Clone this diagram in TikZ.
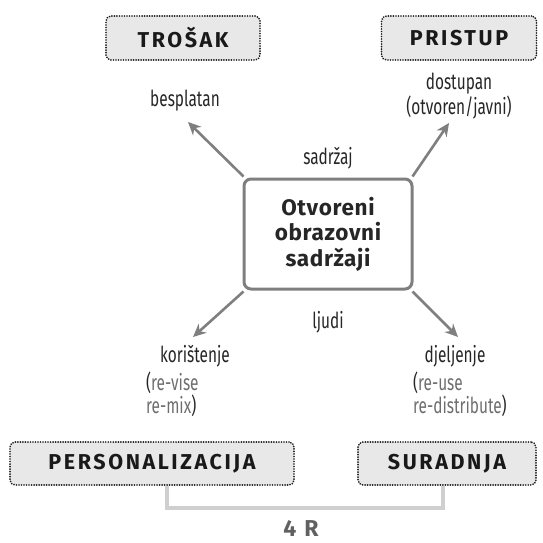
\documentclass[tikz,border=0pt]{standalone}
\usepackage{fontspec}
\setmainfont{Fira Sans}
\newfontfamily\headfont[LetterSpace=12]{Fira Sans}
\newfontfamily\mainfont[LetterSpace=3]{Fira Sans}
\newfontfamily\labfont[FakeStretch=0.70]{Fira Sans}
\usetikzlibrary{arrows.meta}
\definecolor{boxfill}{HTML}{E8E8E8}
\definecolor{arrgray}{HTML}{7F7F7F}
\definecolor{txtgray}{HTML}{6E6E6E}
\definecolor{lingray}{HTML}{CFCFCF}
\tikzset{
  headbox/.style={draw=black!90, line width=1.9pt, line cap=round, dash pattern=on 0.01pt off 2.5pt,
    fill=boxfill, rounded corners=5pt,
    inner sep=0pt, font=\headfont\bfseries\fontsize{21.5}{24}\selectfont, text=black!90},
  lab/.style={font=\labfont\fontsize{22}{25}\selectfont, text=black!85, inner sep=0pt},
  sublab/.style={font=\labfont\fontsize{22}{23}\selectfont, text=txtgray, inner sep=0pt, align=left},
  arr/.style={draw=arrgray, line width=2.6pt, -{Stealth[length=13pt,width=12pt]}},
}
\begin{document}
\begin{tikzpicture}[x=1pt,y=-1pt]
\useasboundingbox (0,0) rectangle (542,543);
% heading boxes
\node[headbox, minimum width=154pt, minimum height=44pt] (trosak) at (183,38) {TROŠAK};
\node[headbox, minimum width=155pt, minimum height=44pt] (pristup) at (459,38) {PRISTUP};
\node[headbox, minimum width=284pt, minimum height=43pt] (pers) at (152,463.5) {PERSONALIZACIJA};
\node[headbox, minimum width=178pt, minimum height=43pt] (surad) at (447,463.5) {SURADNJA};
% main box
\node[draw=arrgray, line width=3pt, rounded corners=7pt, minimum width=168pt, minimum height=110pt,
  align=center, font=\mainfont\bfseries\fontsize{22.5}{25.5}\selectfont, text=black!85] (main) at (328,234)
  {Otvoreni\\obrazovni\\sadržaji};
% labels
\node[lab] (sadr) at (328,158) {sadržaj};
\node[lab] (ljudi) at (328,322) {ljudi};
\node[lab] (besp) at (185,101) {besplatan};
\node[lab, align=center] (dost) at (459,96) {dostupan\\(otvoren/javni)};
\node[lab] (kor) at (195,356) {korištenje};
\node[lab] (djel) at (455,356) {djeljenje};
\node[sublab, anchor=west] (korsub) at (146,394.5) {{\color{black!85}(}re-vise\\re-mix{\color{black!85})}};
\node[sublab, anchor=west] (djelsub) at (413,394.5) {{\color{black!85}(}re-use\\re-distribute{\color{black!85})}};
% arrow tips
\coordinate (tTL) at (188,122);
\coordinate (tTR) at (449,123);
\coordinate (tBL) at (193,337);
\coordinate (tBR) at (458,337);
\draw[arr] ([shift={(1pt,1pt)}]main.north west) -- (tTL);
\draw[arr] ([shift={(-1pt,1pt)}]main.north east) -- (tTR);
\draw[arr] ([shift={(1pt,-1pt)}]main.south west) -- (tBL);
\draw[arr] ([shift={(-1pt,-1pt)}]main.south east) -- (tBR);
% 4R bracket
\coordinate (cb1) at (167,508);
\coordinate (cb2) at (443,508);
\draw[lingray, line width=4pt] (pers.south -| cb1) -- (cb1) -- (cb2) -- (surad.south -| cb2);
\node[inner sep=0pt, font=\headfont\bfseries\fontsize{23}{26}\selectfont, text=black!62] (fourR) at (301,528.5) {4 R};
\end{tikzpicture}
\end{document}
